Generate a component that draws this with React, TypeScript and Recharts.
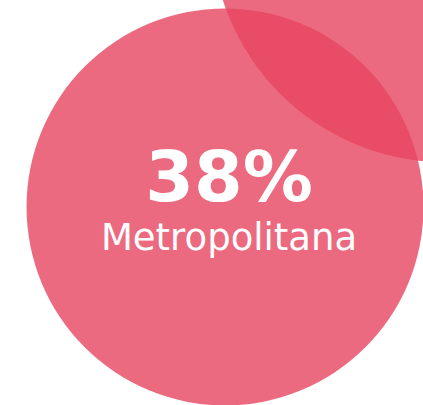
import { ScatterChart, Scatter, XAxis, YAxis } from "recharts";

// bubble positions (chart units 0-100), sizes in percent
const regions = ["Metropolitana", "Resto"];
const xPos = [53.2, 105.4];
const yPos = [48.9, 117.8];
const shares = [38, 53];
const showLabel = [true, false];

const W = 423;
const H = 405;
const R_REF = 198.5; // radius of the 38% bubble
const COLOR = "#e74560";

const data = regions.map((name, i) => ({
  name,
  x: xPos[i],
  y: yPos[i],
  share: shares[i],
  label: showLabel[i],
}));

function Bubble(props: any) {
  const { cx, cy, payload } = props;
  const r = R_REF * Math.sqrt(payload.share / shares[0]);
  return (
    <g>
      <circle cx={cx} cy={cy} r={r} fill={COLOR} fillOpacity={0.8} />
      {payload.label && (
        <>
          <text
            x={cx + 4}
            y={cy - 6}
            textAnchor="middle"
            fill="#fff"
            fontWeight="bold"
            fontSize={70}
            fontFamily="DejaVu Sans, Verdana, sans-serif"
          >
            {payload.share}%
          </text>
          <text
            x={cx + 4}
            y={cy + 43}
            textAnchor="middle"
            fill="#fff"
            fontSize={37}
            fontFamily="DejaVu Sans, Verdana, sans-serif"
          >
            {payload.name}
          </text>
        </>
      )}
    </g>
  );
}

export default function App() {
  return (
    <div style={{ position: "absolute", left: 0, top: 0, background: "#fff" }}>
      <ScatterChart width={W} height={H} margin={{ top: 0, right: 0, bottom: 0, left: 0 }}>
        <XAxis type="number" dataKey="x" domain={[0, 100]} hide allowDataOverflow />
        <YAxis type="number" dataKey="y" domain={[0, 100]} hide allowDataOverflow />
        <Scatter data={data} shape={<Bubble />} isAnimationActive={false} />
      </ScatterChart>
    </div>
  );
}
